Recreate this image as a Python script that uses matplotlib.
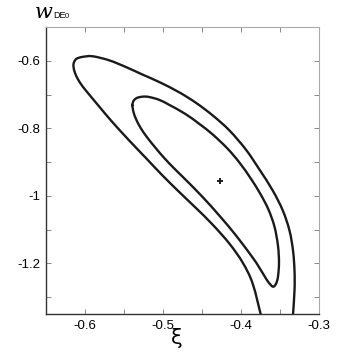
import matplotlib
matplotlib.use("Agg")
import matplotlib.pyplot as plt
from matplotlib.path import Path
from matplotlib.patches import PathPatch
import numpy as np

# 2-sigma (outer) contour, traced from lower branch (bottom) round the tip to upper branch
outer_xi = [-0.3738, -0.3850, -0.3978, -0.4149, -0.4364, -0.4577, -0.4792, -0.5006,
            -0.5220, -0.5434, -0.5649, -0.5820, -0.5991, -0.6045, -0.6090, -0.6129,
            -0.6148, -0.6141, -0.6109, -0.6035, -0.5906, -0.5692, -0.5477, -0.5263,
            -0.5049, -0.4792, -0.4577, -0.4364, -0.4149, -0.3934, -0.3764, -0.3593,
            -0.3464, -0.3378, -0.3333, -0.3314, -0.3314, -0.3336]
outer_w = [-1.360, -1.2602, -1.1979, -1.1415, -1.0852, -1.0362, -0.9887, -0.9398,
           -0.8878, -0.8359, -0.7816, -0.7350, -0.6875, -0.6712, -0.6549, -0.6356,
           -0.6163, -0.6045, -0.5941, -0.5887, -0.5866, -0.5985, -0.6184, -0.6409,
           -0.6629, -0.6935, -0.7246, -0.7617, -0.8062, -0.8641, -0.9220, -0.9843,
           -1.0436, -1.1030, -1.1623, -1.2217, -1.2810, -1.360]

# 1-sigma (inner) closed contour
inner_xi = [-0.5392, -0.5377, -0.5332, -0.5254, -0.5177, -0.5049, -0.4920, -0.4715,
            -0.4535, -0.4364, -0.4175, -0.4021, -0.3879, -0.3751, -0.3648, -0.3571,
            -0.3526, -0.3513, -0.3526, -0.3551, -0.3590, -0.3648, -0.3706, -0.3777,
            -0.3850, -0.4063, -0.4278, -0.4492, -0.4706, -0.4856, -0.4985, -0.5100,
            -0.5203, -0.5287, -0.5344, -0.5377]
inner_w = [-0.7320, -0.7187, -0.7098, -0.7062, -0.7074, -0.7157, -0.7306, -0.7573,
           -0.7869, -0.8181, -0.8596, -0.9012, -0.9472, -0.9947, -1.0407, -1.0911,
           -1.1475, -1.1979, -1.2395, -1.2602, -1.2691, -1.2558, -1.2350, -1.2083,
           -1.1831, -1.1178, -1.0585, -1.0036, -0.9531, -0.9190, -0.8878, -0.8567,
           -0.8270, -0.7988, -0.7736, -0.7528]

# best fit point
best_xi = [-0.427]
best_w = [-0.955]

x_ticks = [-0.65, -0.6, -0.55, -0.5, -0.45, -0.4, -0.35, -0.3]
x_labels = ["", "-0.6", "", "-0.5", "", "-0.4", "", "-0.3"]
y_ticks = [-1.3, -1.2, -1.1, -1.0, -0.9, -0.8, -0.7, -0.6, -0.5]
y_labels = ["", "-1.2", "", "-1", "", "-0.8", "", "-0.6", ""]


def smooth_path(xs, ys, closed=False):
    """Catmull-Rom curve through the traced points, as a Bezier path."""
    p = np.column_stack([xs, ys]).astype(float)
    n = len(p)
    if closed:
        ext = np.vstack([p[-1], p, p[0], p[1]])
        segs = n
    else:
        ext = np.vstack([p[0], p, p[-1]])
        segs = n - 1
    verts = [ext[1]]
    codes = [Path.MOVETO]
    for i in range(segs):
        p0, p1, p2, p3 = ext[i], ext[i + 1], ext[i + 2], ext[i + 3]
        c1 = p1 + (p2 - p0) / 6.0
        c2 = p2 - (p3 - p1) / 6.0
        verts += [c1, c2, p2]
        codes += [Path.CURVE4] * 3
    return Path(verts, codes)


plt.rcParams['font.family'] = ['Liberation Sans', 'DejaVu Sans']

fig = plt.figure(figsize=(3.54, 3.54), dpi=100)
ax = fig.add_axes([46/354, 40/354, 273/354, 287/354])

for xs, ys, closed in [(outer_xi, outer_w, False), (inner_xi, inner_w, True)]:
    ax.add_patch(PathPatch(smooth_path(xs, ys, closed), fill=False,
                           edgecolor='#1a1a1a', lw=1.7, capstyle='round',
                           joinstyle='round'))
ax.plot(best_xi, best_w, marker='+', color='#1a1a1a', ms=5, mew=1.4, ls='none')

ax.set_xlim(-0.65, -0.3)
ax.set_ylim(-1.35, -0.5)
ax.set_xticks(x_ticks)
ax.set_xticklabels(x_labels)
ax.set_yticks(y_ticks)
ax.set_yticklabels(y_labels)
ax.tick_params(direction='in', length=3.5, width=0.7, top=True, right=True,
               labelsize=9.5, pad=4, colors='#888888', labelcolor='black')

for side in ['left', 'bottom']:
    ax.spines[side].set_color('#333333')
    ax.spines[side].set_linewidth(1.0)
for side in ['top', 'right']:
    ax.spines[side].set_color('#aaaaaa')
    ax.spines[side].set_linewidth(0.8)

# axis labels
fig.text(35/354, 1 - 17.5/354, "w", fontsize=15, style='italic',
         family=['DejaVu Serif'], ha='left', va='baseline')
fig.text(53.5/354, 1 - 17.5/354, "DE", fontsize=6.5, ha='left', va='baseline')
fig.text(65/354, 1 - 17.5/354, "0", fontsize=5.5, ha='left', va='baseline')
fig.text(177/354, 1 - 338/354, "ξ", fontsize=15, ha='center', va='center',
         family=['DejaVu Sans'])

fig.savefig("out.png", dpi=100)
